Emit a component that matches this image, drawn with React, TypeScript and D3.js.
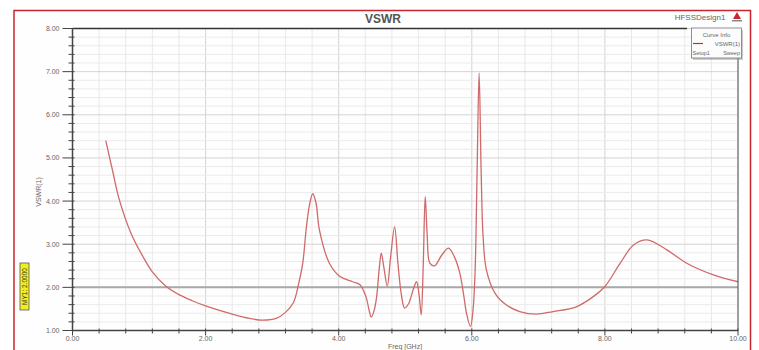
import React from 'react';
import * as d3 from 'd3';

// Frequency (GHz) and VSWR
const freqGHz = [
  0.5, 0.6, 0.7, 0.88, 1.06, 1.2, 1.4, 1.6, 1.8, 2.0, 2.4, 2.66, 2.85, 3.06, 3.2, 3.32, 3.4, 3.46, 3.51, 3.56,
  3.61, 3.66, 3.71, 3.86, 4.02, 4.21, 4.32, 4.41, 4.46, 4.49, 4.53, 4.57, 4.61, 4.64, 4.68, 4.73, 4.78, 4.84,
  4.89, 4.94, 4.99, 5.05, 5.12, 5.17, 5.21, 5.24, 5.27, 5.3, 5.33, 5.37, 5.44, 5.55, 5.65, 5.74, 5.82, 5.88,
  5.92, 5.98, 6.02, 6.05, 6.08, 6.11, 6.14, 6.17, 6.22, 6.35, 6.52, 6.72, 6.97, 7.22, 7.57, 7.82, 8.0, 8.23,
  8.43, 8.63, 8.93, 9.23, 9.63, 10.0,
];
const vswr = [
  5.4, 4.72, 4.05, 3.25, 2.71, 2.36, 2.03, 1.83, 1.69, 1.57, 1.38, 1.28, 1.24, 1.28, 1.42, 1.65, 2.1, 2.56, 3.33, 3.9,
  4.17, 3.95, 3.33, 2.56, 2.25, 2.13, 2.06, 1.78, 1.45, 1.31, 1.45, 1.78, 2.45, 2.79, 2.45, 2.03, 2.7, 3.4,
  2.56, 1.85, 1.52, 1.62, 1.95, 2.13, 1.8, 1.36, 2.5, 4.1, 3.2, 2.56, 2.5, 2.75, 2.91, 2.7, 2.33, 1.8,
  1.4, 1.09, 1.5, 2.4, 4.72, 6.97, 4.72, 3.18, 2.4, 1.86, 1.59, 1.44, 1.38, 1.44, 1.55, 1.78, 2.02, 2.56,
  2.98, 3.1, 2.87, 2.56, 2.29, 2.13,
];

const xTicks = [0, 2, 4, 6, 8, 10];
const yTicks = [1, 2, 3, 4, 5, 6, 7, 8];
const markerValue = 2.0;

const W = 759;
const H = 350;
const left = 72.5;
const right = 738;
const top = 28.5;
const bottom = 330.5;
const font = 'Liberation Sans, Arial, sans-serif';

export default function App() {
  const x = d3.scaleLinear().domain([0, 10]).range([left, right]);
  const y = d3.scaleLinear().domain([1, 8]).range([bottom, top]);

  const xMinor = d3.range(0, 10.001, 0.4);
  const yMinor = d3.range(1, 8.001, 0.2);

  const pts = freqGHz.map((f, i) => [f, vswr[i]] as [number, number]);
  const line = d3.line<[number, number]>()
    .x(d => x(d[0]))
    .y(d => y(d[1]))
    .curve(d3.curveCatmullRom.alpha(0.5));

  return (
    <svg width={W} height={H} style={{position: 'absolute', left: 0, top: 0}} fontFamily={font}>
      <rect x={0} y={0} width={W} height={H} fill="#ffffff" />
      <rect x={14} y={10.5} width={736.5} height={350} fill="#fefefe" stroke="#c8262c" strokeWidth={1.5} />

      {/* grid */}
      {xMinor.map((v, i) => (
        <line key={'gx' + i} x1={x(v)} x2={x(v)} y1={top} y2={bottom}
              stroke={i % 5 === 0 ? '#d4d4d4' : '#e8e8e8'} strokeWidth={1} />
      ))}
      {yMinor.map((v, i) => (
        <line key={'gy' + i} x1={left} x2={right} y1={y(v)} y2={y(v)}
              stroke={i % 5 === 0 ? '#d4d4d4' : '#ebebeb'} strokeWidth={1} />
      ))}

      {/* marker line */}
      <line x1={left} x2={right} y1={y(markerValue)} y2={y(markerValue)} stroke="#a8a8a8" strokeWidth={2} />

      {/* curve */}
      <path d={line(pts) || ''} fill="none" stroke="#d06a6a" strokeWidth={1.3} />

      {/* frame */}
      <line x1={left} x2={687} y1={top} y2={top} stroke="#333" strokeWidth={1.5} />
      <line x1={left} x2={left} y1={top} y2={bottom} stroke="#444" strokeWidth={1.5} />
      <line x1={left} x2={right} y1={bottom} y2={bottom} stroke="#444" strokeWidth={1.5} />
      <line x1={right} x2={right} y1={58} y2={bottom} stroke="#555" strokeWidth={1} />

      {/* y ticks */}
      {yMinor.map((v, i) => (
        <line key={'ty' + i} x1={i % 5 === 0 ? left - 10 : left - 4} x2={left + 2} y1={y(v)} y2={y(v)}
              stroke="#444" strokeWidth={1} />
      ))}
      {yTicks.map(v => (
        <text key={'ly' + v} x={left - 13} y={y(v) + 2.5} fontSize={7} fill="#666" textAnchor="end">
          {v.toFixed(2)}
        </text>
      ))}

      {/* x ticks */}
      {xMinor.map((v, i) => (
        <line key={'tx' + i} x1={x(v)} x2={x(v)} y1={bottom - 2} y2={bottom + (i % 5 === 0 ? 5 : 3)}
              stroke="#444" strokeWidth={1} />
      ))}
      {xTicks.map(v => (
        <text key={'lx' + v} x={x(v)} y={341} fontSize={7} fill="#666" textAnchor="middle">
          {v.toFixed(2)}
        </text>
      ))}

      {/* titles */}
      <text x={383} y={23} fontSize={12} fontWeight="bold" fill="#555" textAnchor="middle">VSWR</text>
      <text x={405} y={349} fontSize={7} fill="#666" textAnchor="middle">Freq [GHz]</text>
      <text transform="translate(41,192) rotate(-90)" fontSize={7} fill="#666" textAnchor="middle">VSWR(1)</text>
      <text x={700} y={20} fontSize={8} fill="#666" textAnchor="middle">HFSSDesign1</text>
      <path d="M737,12 L733,19 L741,19 Z" fill="#c8262c" />
      <rect x={732} y={20} width={10} height={1.5} fill="#888" />

      {/* marker label */}
      <rect x={20} y={263} width={9} height={47} fill="#eeee22" stroke="#555" strokeWidth={0.8} />
      <text transform="translate(27.3,286.5) rotate(-90)" fontSize={6.5} fill="#333" textAnchor="middle">
        MY1: 2.0000
      </text>

      {/* legend */}
      <rect x={693} y={30} width={50} height={30} fill="#999" opacity={0.5} />
      <rect x={691.5} y={28} width={50} height={30} fill="#fcfcfc" stroke="#777" strokeWidth={0.8} />
      <text x={716.5} y={37} fontSize={6} fill="#666" textAnchor="middle">Curve Info</text>
      <line x1={693} x2={703} y1={43.5} y2={43.5} stroke="#cc2a2a" strokeWidth={1.2} />
      <text x={740} y={46} fontSize={6} fill="#666" textAnchor="end">VSWR(1)</text>
      <text x={692.5} y={55} fontSize={5.5} fill="#666">Setup1</text>
      <text x={740} y={55} fontSize={5.5} fill="#666" textAnchor="end">Sweep</text>
    </svg>
  );
}
